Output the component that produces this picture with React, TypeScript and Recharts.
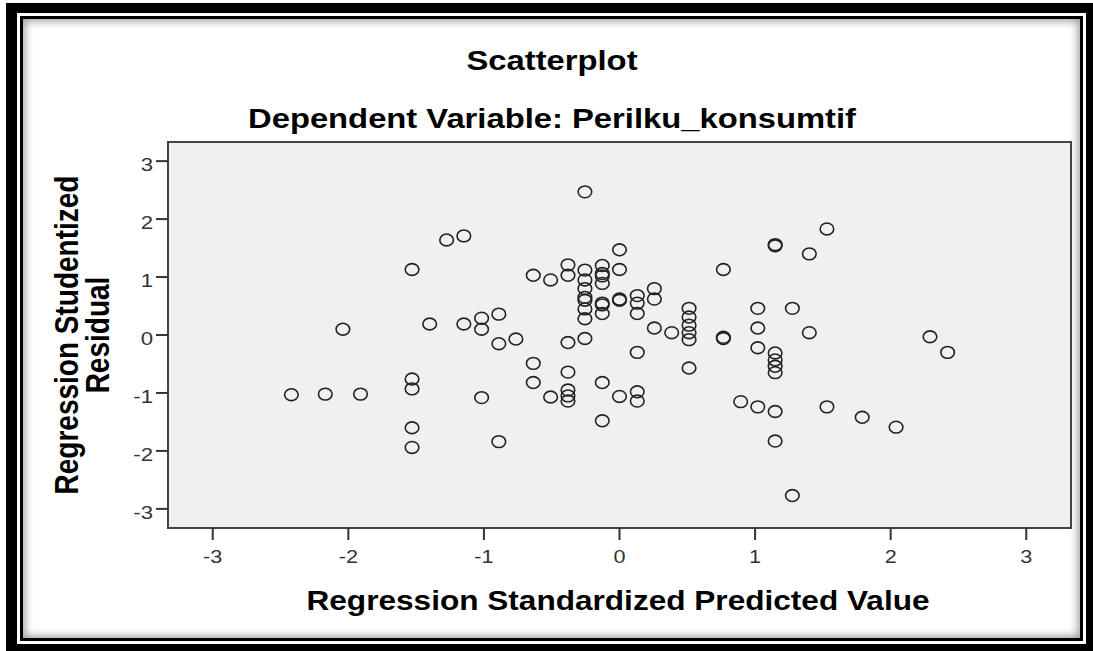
import React from 'react';
import { ScatterChart, Scatter, XAxis, YAxis, ReferenceArea } from 'recharts';

// predicted value (x) and studentized residual (y)
const predicted = [
  -2.42, -2.17, -2.04, -1.91, -1.53, -1.53, -1.53, -1.53, -1.53, -1.40,
  -1.275, -1.148, -1.148, -1.017, -1.017, -1.017, -0.89, -0.89, -0.89, -0.764,
  -0.636, -0.636, -0.636, -0.508, -0.508, -0.38, -0.38, -0.38, -0.38, -0.38,
  -0.38, -0.38, -0.255, -0.255, -0.255, -0.255, -0.255, -0.255, -0.255, -0.255,
  -0.255, -0.127, -0.127, -0.127, -0.127, -0.127, -0.127, -0.127, -0.127, -0.127,
  0, 0, 0, 0, 0, 0.131, 0.131, 0.131, 0.131, 0.131,
  0.131, 0.257, 0.257, 0.257, 0.385, 0.513, 0.513, 0.513, 0.513, 0.513,
  0.513, 0.766, 0.766, 0.766, 0.894, 1.02, 1.02, 1.02, 1.02, 1.148,
  1.148, 1.148, 1.148, 1.148, 1.148, 1.148, 1.148, 1.275, 1.275, 1.40,
  1.40, 1.53, 1.53, 1.79, 2.04, 2.29, 2.42,
];
const residual = [
  -1.03, -1.02, 0.10, -1.02, 1.13, -0.76, -0.93, -1.60, -1.94, 0.19,
  1.64, 1.71, 0.19, 0.29, 0.10, -1.08, 0.36, -0.15, -1.84, -0.07,
  1.03, -0.49, -0.82, 0.95, -1.07, 1.21, 1.03, -0.13, -0.64, -0.95,
  -1.05, -1.14, 2.47, 1.12, 0.95, 0.80, 0.65, 0.60, 0.45, 0.28,
  -0.06, 1.20, 1.06, 1.02, 0.89, 0.55, 0.52, 0.37, -0.82, -1.48,
  1.47, 1.13, 0.62, 0.60, -1.06, 0.68, 0.55, 0.37, -0.30, -0.98,
  -1.14, 0.80, 0.62, 0.12, 0.04, 0.46, 0.31, 0.17, 0.04, -0.08,
  -0.57, 1.13, -0.04, -0.06, -1.15, 0.46, 0.12, -0.22, -1.24, 1.56,
  1.54, -0.31, -0.43, -0.54, -0.65, -1.32, -1.83, 0.46, -2.77, 1.40,
  0.04, 1.83, -1.24, -1.42, -1.59, -0.03, -0.30,
];
const axisTicks = [-3, -2, -1, 0, 1, 2, 3];

const points = predicted.map((x, i) => ({ x, y: residual[i] }));

const FONT = '"Liberation Sans", Arial, sans-serif';
const SX = 1.17; // the picture is stretched sideways

const XTick = (props: any) => (
  <g transform={`translate(${props.x},${props.y})`}>
    <text transform={`scale(${SX},1)`} textAnchor="middle" y={19} fontSize={18.5} fill="#333" fontFamily={FONT}>
      {props.payload.value}
    </text>
  </g>
);

const YTick = (props: any) => (
  <g transform={`translate(${props.x},${props.y})`}>
    <text transform={`scale(${SX},1)`} textAnchor="end" y={10} fontSize={19} fill="#333" fontFamily={FONT}>
      {props.payload.value}
    </text>
  </g>
);

const Ring = (props: any) => (
  <ellipse cx={props.cx} cy={props.cy} rx={6.8} ry={5.9} fill="none" stroke="#222" strokeWidth={1.6} />
);

export default function App() {
  return (
    <div style={{ position: 'fixed', left: 0, top: 0, width: 1093, height: 651, background: '#fff', overflow: 'hidden' }}>
      {/* frame */}
      <div style={{
        position: 'absolute', left: 6, top: 3, width: 1087, height: 648, boxSizing: 'border-box',
        borderStyle: 'solid', borderColor: '#000', borderWidth: '10px 7px 7px 11px', background: '#fff'
      }}>
        <div style={{
          position: 'absolute', left: 3, top: 3, right: 3, bottom: 3, border: '3px solid #000',
          boxShadow: 'inset 0 0 8px 2px rgba(0,0,0,0.4)'
        }} />
      </div>

      <div style={{ position: 'absolute', left: 0, top: 0 }}>
        <ScatterChart width={1093} height={651} margin={{ top: 142, right: 22, bottom: 83, left: 108 }}>
          <XAxis
            type="number" dataKey="x" domain={[-3.33, 3.33]} ticks={axisTicks} allowDataOverflow
            height={40} axisLine={false} tickSize={12} tickMargin={4}
            tickLine={{ stroke: '#333', strokeWidth: 2 }} tick={<XTick />}
          />
          <YAxis
            type="number" dataKey="y" domain={[-3.33, 3.33]} ticks={axisTicks} allowDataOverflow
            width={60} axisLine={false} tickSize={12} tickMargin={3}
            tickLine={{ stroke: '#333', strokeWidth: 2 }} tick={<YTick />}
          />
          <ReferenceArea x1={-3.33} x2={3.33} y1={-3.33} y2={3.33} fill="#f0f0f0" fillOpacity={1} stroke="#444" strokeWidth={2} />
          <Scatter data={points} shape={<Ring />} isAnimationActive={false} />
        </ScatterChart>
      </div>

      {/* titles */}
      <svg width={1093} height={651} style={{ position: 'absolute', left: 0, top: 0, pointerEvents: 'none' }}>
        <g fontFamily={FONT} fontWeight="bold" fill="#000">
          <text transform={`translate(552,70) scale(${SX},1)`} textAnchor="middle" fontSize={28}>Scatterplot</text>
          <text transform={`translate(552,128) scale(${SX},1)`} textAnchor="middle" fontSize={28}>Dependent Variable: Perilku_konsumtif</text>
          <text transform={`translate(618,610) scale(${SX},1)`} textAnchor="middle" fontSize={27}>Regression Standardized Predicted Value</text>
          <text transform={`translate(78,335) scale(${SX},1) rotate(-90)`} textAnchor="middle" fontSize={28}>Regression Studentized</text>
          <text transform={`translate(109,335) scale(${SX},1) rotate(-90)`} textAnchor="middle" fontSize={28}>Residual</text>
        </g>
      </svg>
    </div>
  );
}
